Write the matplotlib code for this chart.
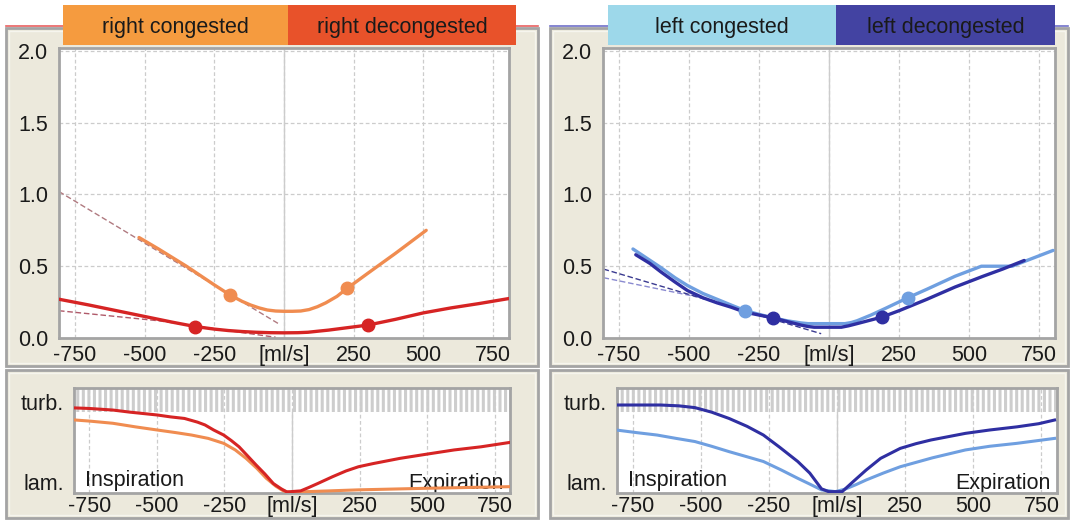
import matplotlib
matplotlib.use("Agg")
import matplotlib.pyplot as plt
from matplotlib.patches import Rectangle
from matplotlib.lines import Line2D

plt.rcParams['font.family'] = ['Liberation Sans', 'DejaVu Sans']
plt.rcParams['hatch.linewidth'] = 1.8

# ---------------- data ----------------
flow_ticks = [-750, -500, -250, 0, 250, 500, 750]
flow_labels = ['-750', '-500', '-250', '[ml/s]', '250', '500', '750']
res_ticks = [0.0, 0.5, 1.0, 1.5, 2.0]
res_labels = ['0.0', '0.5', '1.0', '1.5', '2.0']

# right nasal side, resistance curves
right_cong_x = [-520, -450, -400, -350, -300, -250, -194, -150, -120, -90, -60, -30, 0, 30, 60, 90, 120, 150, 190, 226, 300, 400, 510]
right_cong_y = [0.70, 0.62, 0.56, 0.50, 0.435, 0.37, 0.30, 0.255, 0.23, 0.21, 0.195, 0.188, 0.186, 0.186, 0.188, 0.198, 0.218, 0.245, 0.29, 0.345, 0.45, 0.59, 0.75]
right_cong_mark_x = [-194, 226]
right_cong_mark_y = [0.30, 0.345]
right_cong_fit_x = [-807, -20]
right_cong_fit_y = [1.02, 0.10]

right_dec_x = [-807, -700, -600, -500, -400, -319, -250, -200, -150, -100, -50, 0, 50, 86, 120, 160, 220, 301, 400, 500, 600, 700, 807]
right_dec_y = [0.27, 0.23, 0.19, 0.15, 0.11, 0.08, 0.062, 0.052, 0.045, 0.04, 0.037, 0.036, 0.037, 0.04, 0.047, 0.055, 0.07, 0.09, 0.13, 0.175, 0.21, 0.24, 0.275]
right_dec_mark_x = [-319, 301]
right_dec_mark_y = [0.08, 0.09]
right_dec_fit_x = [-807, -450, -30]
right_dec_fit_y = [0.19, 0.12, 0.005]

# left nasal side, resistance curves
left_cong_x = [-700, -650, -600, -550, -505, -450, -400, -350, -299, -250, -200, -150, -100, -75, -53, 57, 80, 100, 150, 200, 281, 350, 450, 544, 654, 720, 800]
left_cong_y = [0.62, 0.555, 0.49, 0.42, 0.365, 0.31, 0.27, 0.23, 0.19, 0.165, 0.14, 0.12, 0.105, 0.10, 0.10, 0.10, 0.108, 0.12, 0.16, 0.205, 0.28, 0.34, 0.43, 0.50, 0.50, 0.55, 0.61]
left_cong_mark_x = [-299, 281]
left_cong_mark_y = [0.19, 0.28]
left_cong_fit_x = [-805, -505, -350]
left_cong_fit_y = [0.42, 0.30, 0.235]

left_dec_x = [-690, -640, -600, -550, -505, -450, -400, -350, -300, -250, -199, -150, -100, -75, -53, 0, 44, 70, 100, 188, 250, 350, 450, 550, 620, 697]
left_dec_y = [0.58, 0.52, 0.46, 0.39, 0.33, 0.28, 0.245, 0.215, 0.18, 0.16, 0.14, 0.115, 0.09, 0.08, 0.075, 0.075, 0.075, 0.085, 0.10, 0.145, 0.19, 0.27, 0.355, 0.43, 0.48, 0.54]
left_dec_mark_x = [-199, 188]
left_dec_mark_y = [0.14, 0.145]
left_dec_fit_x = [-805, -28]
left_dec_fit_y = [0.48, 0.03]

# flow regime (0 = laminar, 1 = top of scale)
regime_ticks = [0.10, 0.87]
regime_labels = ['lam.', 'turb.']

right_cong_reg_x = [-802, -750, -663, -580, -499, -430, -372, -310, -253, -210, -170, -130, -95, -60, -32, -6, 57, 246, 500, 802]
right_cong_reg_y = [0.695, 0.685, 0.664, 0.63, 0.60, 0.575, 0.552, 0.52, 0.473, 0.41, 0.33, 0.235, 0.14, 0.065, 0.02, 0.006, 0.013, 0.03, 0.045, 0.06]
right_dec_reg_x = [-802, -750, -663, -600, -499, -450, -398, -350, -322, -290, -253, -225, -196, -165, -133, -100, -69, -40, -19, 32, 60, 95, 150, 200, 246, 300, 400, 499, 600, 700, 802]
right_dec_reg_y = [0.81, 0.805, 0.79, 0.77, 0.743, 0.725, 0.71, 0.675, 0.648, 0.60, 0.552, 0.50, 0.44, 0.355, 0.267, 0.18, 0.09, 0.04, 0.01, 0.02, 0.05, 0.09, 0.155, 0.21, 0.25, 0.28, 0.33, 0.37, 0.41, 0.44, 0.48]

left_cong_reg_x = [-810, -735, -660, -590, -521, -460, -396, -330, -270, -205, -144, -100, -57, -6, 31, 70, 107, 170, 232, 350, 471, 560, 660, 798]
left_cong_reg_y = [0.60, 0.575, 0.552, 0.52, 0.49, 0.445, 0.394, 0.345, 0.30, 0.22, 0.14, 0.085, 0.03, 0.013, 0.038, 0.08, 0.124, 0.19, 0.25, 0.335, 0.41, 0.445, 0.473, 0.52]
left_dec_reg_x = [-810, -647, -580, -521, -460, -396, -330, -270, -210, -144, -100, -57, -31, 19, 60, 107, 160, 232, 290, 345, 471, 560, 660, 740, 798]
left_dec_reg_y = [0.838, 0.838, 0.83, 0.813, 0.77, 0.71, 0.635, 0.552, 0.435, 0.30, 0.19, 0.04, 0.013, 0.013, 0.11, 0.219, 0.33, 0.425, 0.47, 0.505, 0.568, 0.60, 0.63, 0.66, 0.695]

# ---------------- styling ----------------
W, H = 1073, 520
BEIGE = '#ECE9DC'
FRAME = '#A4A4A4'
GRID = '#CCCCCC'
C_ORANGE = '#F08C50'
C_RED = '#D62424'
C_LBLUE = '#6F9FE0'
C_DBLUE = '#2F2FA2'
FS = 15.5

fig = plt.figure(figsize=(W / 100, H / 100), dpi=100)
fig.patch.set_facecolor('white')


def fbox(x0, y0, x1, y1):
    """pixel box (top-left origin) -> figure fraction [l, b, w, h]"""
    return [x0 / W, 1 - y1 / H, (x1 - x0) / W, (y1 - y0) / H]


def rect(x0, y0, x1, y1, **kw):
    l, b, w, h = fbox(x0, y0, x1, y1)
    fig.add_artist(Rectangle((l, b), w, h, transform=fig.transFigure, **kw))


def hline(x0, x1, y, **kw):
    fig.add_artist(Line2D([x0 / W, x1 / W], [1 - y / H, 1 - y / H], transform=fig.transFigure, **kw))


# panel frames
for box in [(6, 28, 538, 366), (550, 28, 1068, 366), (6, 370, 538, 518), (550, 370, 1068, 518)]:
    rect(*box, facecolor=BEIGE, edgecolor=FRAME, linewidth=2.0, zorder=0)
    rect(box[0] + 3, box[1] + 3, box[2] - 3, box[3] - 3, facecolor='none', edgecolor='#F6F5EE', linewidth=1.0, zorder=0)

hline(6, 538, 25.5, color='#E86060', linewidth=1.2, zorder=1)
hline(550, 1068, 25.5, color='#7070C8', linewidth=1.2, zorder=1)

# headers
headers = [((63, 5, 288, 45), '#F59B3F', 'right congested'),
           ((288, 5, 516, 45), '#E8522A', 'right decongested'),
           ((608, 5, 836, 45), '#9DD8EA', 'left congested'),
           ((836, 5, 1055, 45), '#4343A2', 'left decongested')]
for (x0, y0, x1, y1), col, txt in headers:
    rect(x0, y0, x1, y1, facecolor=col, edgecolor='none', zorder=2)
    fig.text((x0 + x1) / 2 / W, 1 - 28 / H, txt, ha='center', va='center',
             fontsize=FS, color='#1A1A1A', zorder=3)


def style_axes(ax, yt, yl, ylim):
    ax.set_facecolor('white')
    ax.set_xlim(-807, 807)
    ax.set_ylim(*ylim)
    ax.set_xticks(flow_ticks)
    ax.set_xticklabels(flow_labels)
    ax.set_yticks(yt)
    ax.set_yticklabels(yl)
    ax.tick_params(length=0, labelsize=FS, colors='#1A1A1A')
    for s in ax.spines.values():
        s.set_color(FRAME)
        s.set_linewidth(2.0)


def resistance_panel(box, curves):
    ax = fig.add_axes(fbox(*box))
    style_axes(ax, res_ticks, res_labels, (0, 2.02))
    ax.tick_params(axis='y', pad=8)
    ax.tick_params(axis='x', pad=5)
    ax.grid(True, color=GRID, linestyle=(0, (3, 2)), linewidth=0.9)
    ax.axvline(0, color=GRID, linewidth=1.0, zorder=1)
    for fx, fy, fcol in curves['fits']:
        ax.plot(fx, fy, color=fcol, linestyle=(0, (4, 2)), linewidth=1.0, zorder=2)
    for x, y, mx, my, col in curves['lines']:
        ax.plot(x, y, color=col, linewidth=2.4, solid_capstyle='round', solid_joinstyle='round', zorder=3)
        ax.plot(mx, my, linestyle='none', marker='o', markersize=9, color=col, zorder=4)
    return ax


def regime_panel(box, curves):
    ax = fig.add_axes(fbox(*box))
    style_axes(ax, regime_ticks, regime_labels, (0, 1))
    ax.tick_params(axis='y', pad=7)
    ax.tick_params(axis='x', pad=2)
    ax.grid(True, axis='x', color=GRID, linestyle=(0, (3, 2)), linewidth=0.9)
    ax.axvline(0, color=GRID, linewidth=1.0, zorder=1)
    ax.axhspan(0.77, 1.0, facecolor='#CDCDCD', edgecolor='white', hatch='|||', linewidth=0, zorder=1)
    for x, y, col in curves:
        ax.plot(x, y, color=col, linewidth=2.2, solid_joinstyle='round', zorder=3)
    ax.text(0.025, 0.12, 'Inspiration', transform=ax.transAxes, ha='left', va='center',
            fontsize=FS, color='#1A1A1A', zorder=2)
    ax.text(0.985, 0.09, 'Expiration', transform=ax.transAxes, ha='right', va='center',
            fontsize=FS, color='#1A1A1A', zorder=2)
    return ax


resistance_panel((59, 48, 509, 338), {
    'fits': [(right_cong_fit_x, right_cong_fit_y, '#B07A80'),
             (right_dec_fit_x, right_dec_fit_y, '#B05A6A')],
    'lines': [(right_cong_x, right_cong_y, right_cong_mark_x, right_cong_mark_y, C_ORANGE),
              (right_dec_x, right_dec_y, right_dec_mark_x, right_dec_mark_y, C_RED)],
})

resistance_panel((603, 48, 1055, 338), {
    'fits': [(left_cong_fit_x, left_cong_fit_y, '#8A8AD0'),
             (left_dec_fit_x, left_dec_fit_y, '#3A3A90')],
    'lines': [(left_cong_x, left_cong_y, left_cong_mark_x, left_cong_mark_y, C_LBLUE),
              (left_dec_x, left_dec_y, left_dec_mark_x, left_dec_mark_y, C_DBLUE)],
})

regime_panel((74, 388, 510, 493), [(right_cong_reg_x, right_cong_reg_y, C_ORANGE),
                                    (right_dec_reg_x, right_dec_reg_y, C_RED)])
regime_panel((617, 388, 1057, 493), [(left_cong_reg_x, left_cong_reg_y, C_LBLUE),
                                      (left_dec_reg_x, left_dec_reg_y, C_DBLUE)])

fig.savefig('out.png', dpi=100, facecolor='white')
